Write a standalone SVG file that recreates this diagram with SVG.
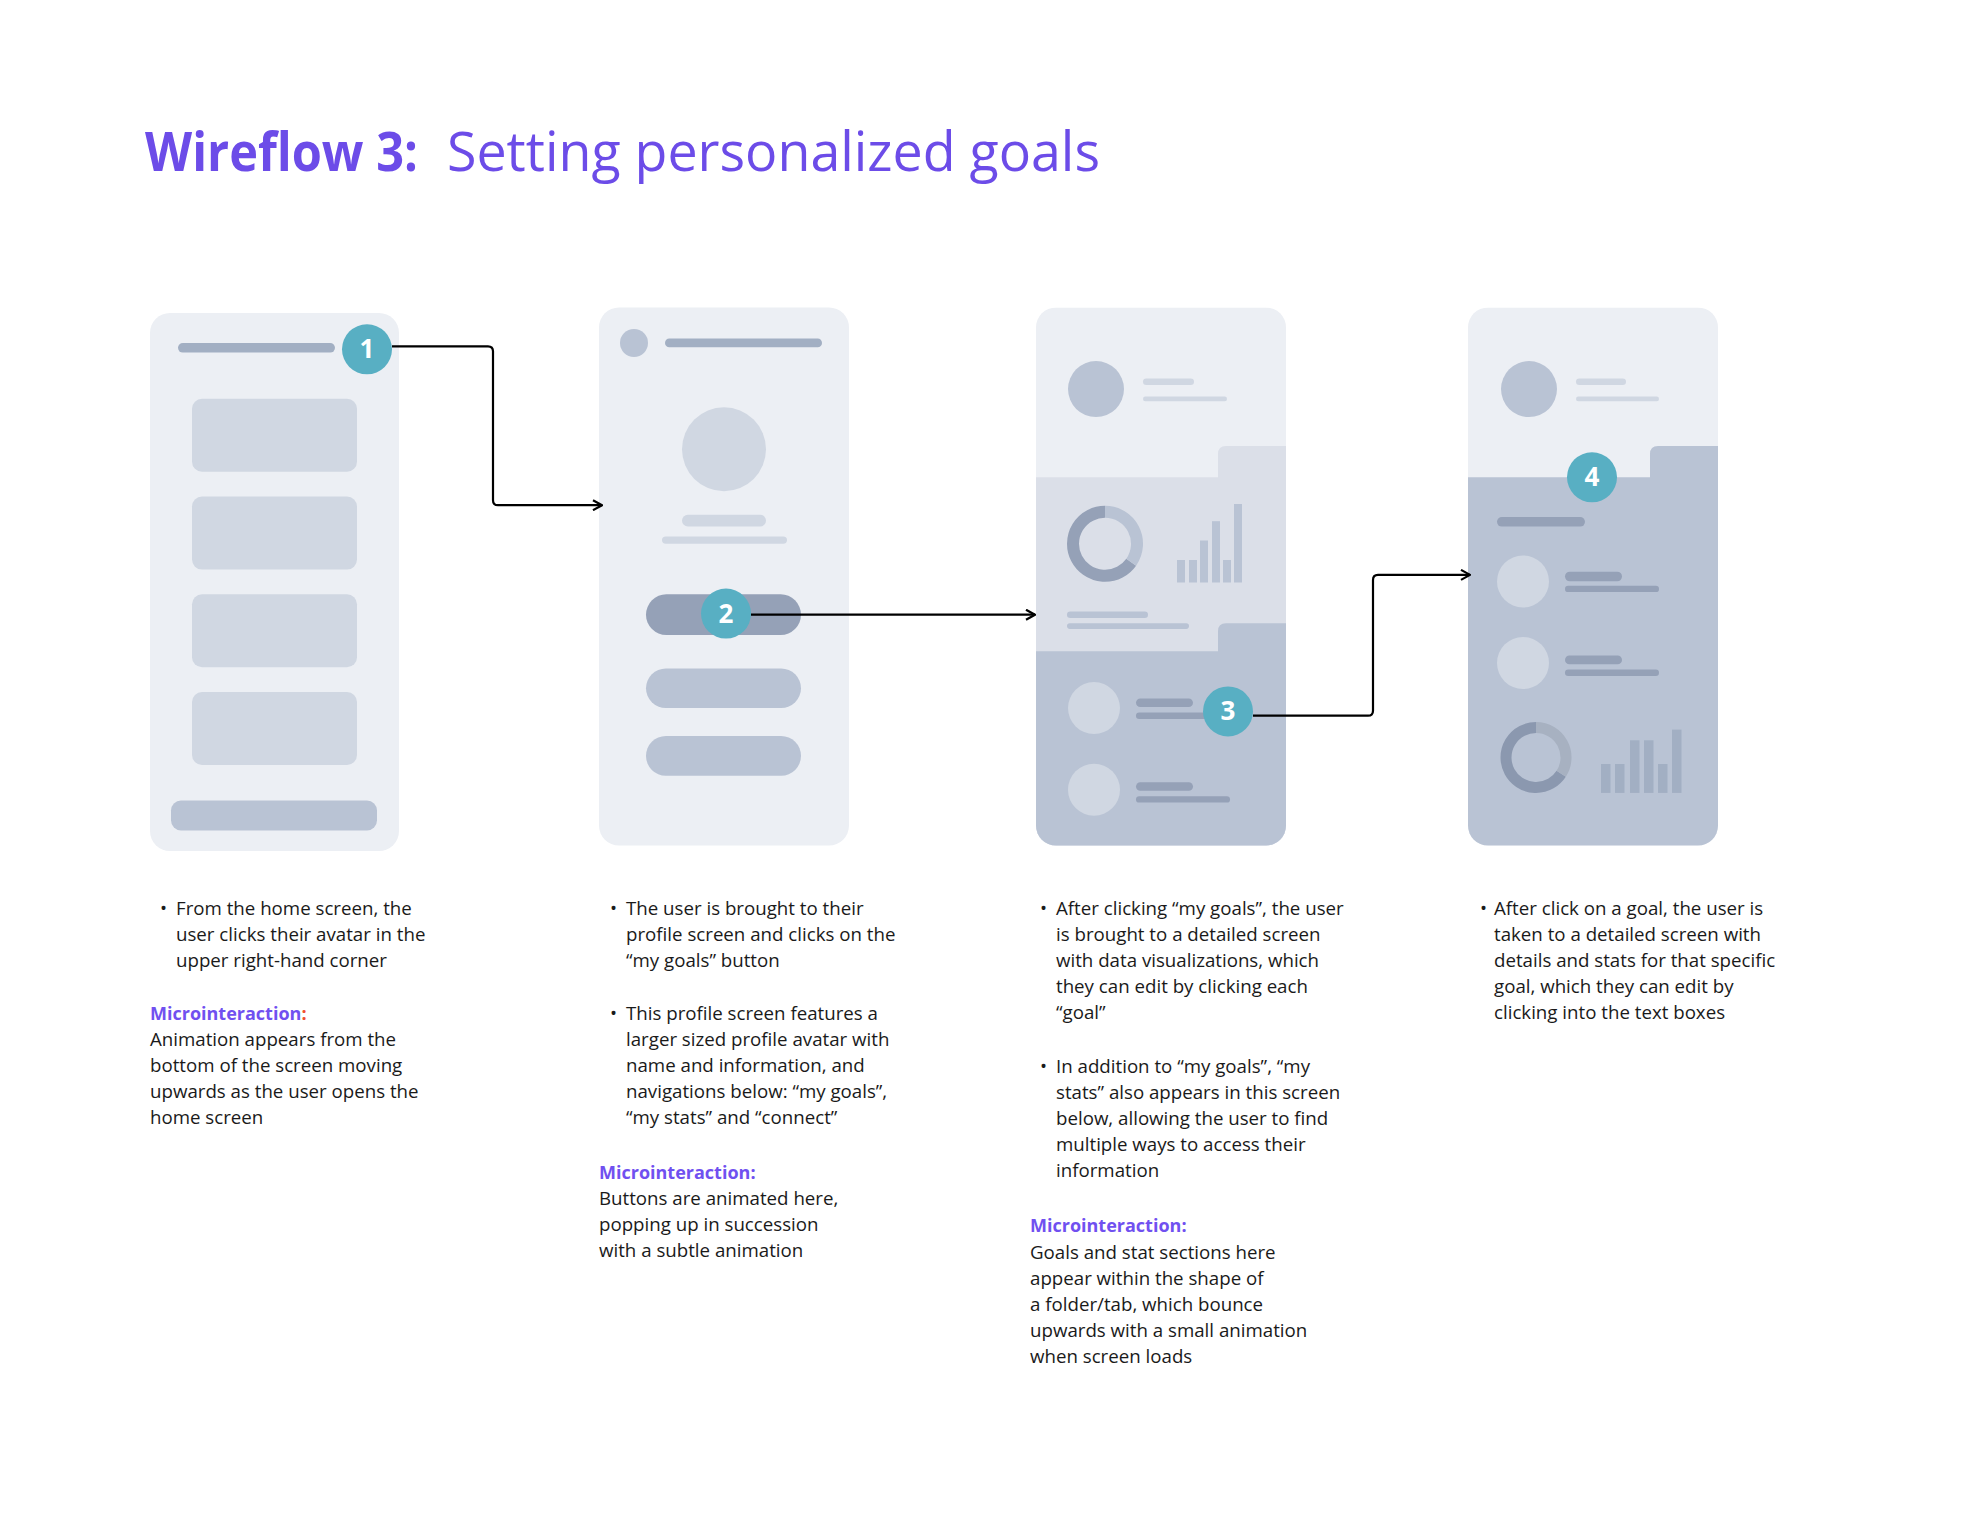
<svg xmlns="http://www.w3.org/2000/svg" width="1980" height="1532" viewBox="0 0 1980 1532">
<style>
.t{font-family:"Open Sans","Liberation Sans",sans-serif;font-size:18.7px;fill:#1a1a1a}
.m{font-family:"Open Sans","Liberation Sans",sans-serif;font-size:18px;font-weight:700;fill:#7050F0}
.ttl{font-family:"Open Sans","Liberation Sans",sans-serif;font-size:54px;fill:#6C4CE8}
.bg{fill:#ECEFF4}
.badge{fill:#58AFC3}
.num{font-family:"Open Sans","Liberation Sans",sans-serif;font-size:26px;font-weight:700;fill:#fff;text-anchor:middle}
.c1{fill:#D0D7E2}
.c2{fill:#B9C3D4}
.c3{fill:#A2AFC3}
.c4{fill:#95A1B7}
.con{fill:none;stroke:#000;stroke-width:2.2}
</style>
<defs>
<marker id="arr" viewBox="0 0 12 12" refX="11" refY="6" markerWidth="12" markerHeight="12" markerUnits="userSpaceOnUse" orient="auto">
<path d="M2,1 L11,6 L2,11" fill="none" stroke="#000" stroke-width="2.2"/>
</marker>
<clipPath id="cp3"><rect x="1036" y="307.5" width="250" height="538" rx="20"/></clipPath>
<clipPath id="cp4"><rect x="1468" y="307.5" width="250" height="538" rx="20"/></clipPath>
</defs>
<rect width="1980" height="1532" fill="#fff"/>

<g id="title">
<text class="ttl" x="145" y="171" font-weight="700" textLength="273" lengthAdjust="spacingAndGlyphs">Wireflow 3:</text>
<text class="ttl" x="447" y="171" textLength="653" lengthAdjust="spacingAndGlyphs">Setting personalized goals</text>
</g>

<g id="screen1">
<rect class="bg" x="150" y="313" width="249" height="538" rx="20"/>
<rect class="c3" x="178" y="343" width="157" height="9.6" rx="4.8"/>
<rect class="c1" x="192" y="398.8" width="165" height="73" rx="10"/>
<rect class="c1" x="192" y="496.6" width="165" height="73" rx="10"/>
<rect class="c1" x="192" y="594.3" width="165" height="73" rx="10"/>
<rect class="c1" x="192" y="692" width="165" height="73" rx="10"/>
<rect class="c2" x="171" y="800.5" width="206" height="30" rx="10"/>
<circle class="badge" cx="367" cy="349.3" r="25"/>
<text class="num" x="367" y="358.3">1</text>
</g>

<g id="screen2">
<rect class="bg" x="599" y="307.5" width="250" height="538" rx="20"/>
<circle class="c2" cx="634" cy="343" r="14"/>
<rect class="c3" x="665" y="338.6" width="157" height="8.6" rx="4.3"/>
<circle class="c1" cx="724" cy="449.3" r="42"/>
<rect class="c1" x="682" y="514.8" width="84" height="11.8" rx="5.9"/>
<rect class="c1" x="662" y="536.4" width="125" height="7.4" rx="3.7"/>
<rect class="c4" x="646" y="594.3" width="155" height="40.8" rx="20.4"/>
<rect class="c2" x="646" y="668.4" width="155" height="39.7" rx="19.85"/>
<rect class="c2" x="646" y="736" width="155" height="39.7" rx="19.85"/>
<circle class="badge" cx="726" cy="613.6" r="25"/>
<text class="num" x="726" y="622.6">2</text>
</g>

<g id="screen3">
<g clip-path="url(#cp3)">
<rect class="bg" x="1036" y="307.5" width="250" height="538"/>
<path d="M1036,477.3 H1218 V454.1 Q1218,446.1 1226,446.1 H1286 V846 H1036 Z" fill="#DBDFE8"/>
<path class="c2" d="M1036,651.2 H1218 V631.3 Q1218,623.3 1226,623.3 H1286 V846 H1036 Z"/>
</g>
<circle class="c2" cx="1096" cy="389.1" r="28"/>
<rect class="c1" x="1143" y="378.4" width="51" height="6.6" rx="3.3"/>
<rect class="c1" x="1143" y="396.6" width="84" height="4.6" rx="2.3"/>
<path d="M1131.2,562.2 A32,32 0 1 1 1105,511.8" fill="none" stroke="#95A1B7" stroke-width="12"/>
<path d="M1105,511.8 A32,32 0 0 1 1131.2,562.2" fill="none" stroke="#B9C3D4" stroke-width="12"/>
<rect class="c2" x="1177" y="560" width="8" height="22.5"/>
<rect class="c2" x="1189" y="560" width="8" height="22.5"/>
<rect class="c2" x="1200" y="540.5" width="8" height="42"/>
<rect class="c2" x="1212" y="521.2" width="8" height="61.3"/>
<rect class="c2" x="1223" y="560" width="8" height="22.5"/>
<rect class="c2" x="1234" y="504" width="8" height="78.5"/>
<rect class="c2" x="1067" y="611.5" width="81" height="6.4" rx="3.2"/>
<rect class="c2" x="1067" y="623.3" width="122" height="5.6" rx="2.8"/>
<circle class="c1" cx="1094" cy="708.1" r="26"/>
<rect class="c4" x="1136" y="698.5" width="57" height="8.6" rx="4.3"/>
<rect class="c4" x="1136" y="712.5" width="94" height="6.4" rx="3.2"/>
<circle class="c1" cx="1094" cy="789.7" r="26"/>
<rect class="c4" x="1136" y="782.2" width="57" height="8.6" rx="4.3"/>
<rect class="c4" x="1136" y="796.2" width="94" height="6.4" rx="3.2"/>
<circle class="badge" cx="1228" cy="711.4" r="25"/>
<text class="num" x="1228" y="720.4">3</text>
</g>

<g id="screen4">
<g clip-path="url(#cp4)">
<rect class="bg" x="1468" y="307.5" width="250" height="538"/>
<path class="c2" d="M1468,477.3 H1650 V454.1 Q1650,446.1 1658,446.1 H1718 V846 H1468 Z"/>
</g>
<circle class="c2" cx="1529" cy="389.1" r="28"/>
<rect class="c1" x="1576" y="378.4" width="50" height="6.6" rx="3.3"/>
<rect class="c1" x="1576" y="396.6" width="83" height="4.6" rx="2.3"/>
<rect class="c4" x="1497" y="517" width="88" height="9.6" rx="4.8"/>
<circle class="c1" cx="1523" cy="581.4" r="26"/>
<rect class="c4" x="1565" y="571.7" width="57" height="9.6" rx="4.8"/>
<rect class="c4" x="1565" y="585.7" width="94" height="6.4" rx="3.2"/>
<circle class="c1" cx="1523" cy="663" r="26"/>
<rect class="c4" x="1565" y="655.5" width="57" height="8.8" rx="4.4"/>
<rect class="c4" x="1565" y="669.5" width="94" height="6.4" rx="3.2"/>
<path d="M1561.2,773.8 A30,30 0 1 1 1536,727.5" fill="none" stroke="#8B98AF" stroke-width="11"/>
<path d="M1536,727.5 A30,30 0 0 1 1561.2,773.8" fill="none" stroke="#A7B1C1" stroke-width="11"/>
<rect class="c3" x="1601" y="764" width="9.5" height="28.9"/>
<rect class="c3" x="1615" y="764" width="9.5" height="28.9"/>
<rect class="c3" x="1630" y="740.3" width="9.5" height="52.6"/>
<rect class="c3" x="1644" y="740.3" width="9.5" height="52.6"/>
<rect class="c3" x="1658" y="764" width="9.5" height="28.9"/>
<rect class="c3" x="1672" y="729.6" width="9.5" height="63.3"/>
<circle class="badge" cx="1592" cy="477.3" r="25"/>
<text class="num" x="1592" y="486.3">4</text>
</g>

<g id="connectors">
<path class="con" d="M392,346.3 H488 Q493,346.3 493,351.3 V500.2 Q493,505.2 498,505.2 H602" marker-end="url(#arr)"/>
<path class="con" d="M751,614.7 H1035" marker-end="url(#arr)"/>
<path class="con" d="M1253,715.7 H1368 Q1373,715.7 1373,710.7 V579.9 Q1373,574.9 1378,574.9 H1470" marker-end="url(#arr)"/>
</g>

<g id="notes1">
<text class="t" x="160" y="915">•</text>
<text class="t" x="176" y="915">From the home screen, the</text>
<text class="t" x="176" y="941">user clicks their avatar in the</text>
<text class="t" x="176" y="967">upper right-hand corner</text>
<text class="m" x="150" y="1020">Microinteraction<tspan fill="#F0502F">:</tspan></text>
<text class="t" x="150" y="1046">Animation appears from the</text>
<text class="t" x="150" y="1072">bottom of the screen moving</text>
<text class="t" x="150" y="1098">upwards as the user opens the</text>
<text class="t" x="150" y="1124">home screen</text>
</g>

<g id="notes2">
<text class="t" x="610" y="915">•</text>
<text class="t" x="626" y="915">The user is brought to their</text>
<text class="t" x="626" y="941">profile screen and clicks on the</text>
<text class="t" x="626" y="967">“my goals” button</text>
<text class="t" x="610" y="1020">•</text>
<text class="t" x="626" y="1020">This profile screen features a</text>
<text class="t" x="626" y="1046">larger sized profile avatar with</text>
<text class="t" x="626" y="1072">name and information, and</text>
<text class="t" x="626" y="1098">navigations below: “my goals”,</text>
<text class="t" x="626" y="1124">“my stats” and “connect”</text>
<text class="m" x="599" y="1179">Microinteraction:</text>
<text class="t" x="599" y="1205">Buttons are animated here,</text>
<text class="t" x="599" y="1231">popping up in succession</text>
<text class="t" x="599" y="1257">with a subtle animation</text>
</g>

<g id="notes3">
<text class="t" x="1040" y="915">•</text>
<text class="t" x="1056" y="915">After clicking “my goals”, the user</text>
<text class="t" x="1056" y="941">is brought to a detailed screen</text>
<text class="t" x="1056" y="967">with data visualizations, which</text>
<text class="t" x="1056" y="993">they can edit by clicking each</text>
<text class="t" x="1056" y="1019">“goal”</text>
<text class="t" x="1040" y="1073">•</text>
<text class="t" x="1056" y="1073">In addition to “my goals”, “my</text>
<text class="t" x="1056" y="1099">stats” also appears in this screen</text>
<text class="t" x="1056" y="1125">below, allowing the user to find</text>
<text class="t" x="1056" y="1151">multiple ways to access their</text>
<text class="t" x="1056" y="1177">information</text>
<text class="m" x="1030" y="1232">Microinteraction:</text>
<text class="t" x="1030" y="1259">Goals and stat sections here</text>
<text class="t" x="1030" y="1285">appear within the shape of</text>
<text class="t" x="1030" y="1311">a folder/tab, which bounce</text>
<text class="t" x="1030" y="1337">upwards with a small animation</text>
<text class="t" x="1030" y="1363">when screen loads</text>
</g>

<g id="notes4">
<text class="t" x="1480" y="915">•</text>
<text class="t" x="1494" y="915">After click on a goal, the user is</text>
<text class="t" x="1494" y="941">taken to a detailed screen with</text>
<text class="t" x="1494" y="967">details and stats for that specific</text>
<text class="t" x="1494" y="993">goal, which they can edit by</text>
<text class="t" x="1494" y="1019">clicking into the text boxes</text>
</g>
</svg>
